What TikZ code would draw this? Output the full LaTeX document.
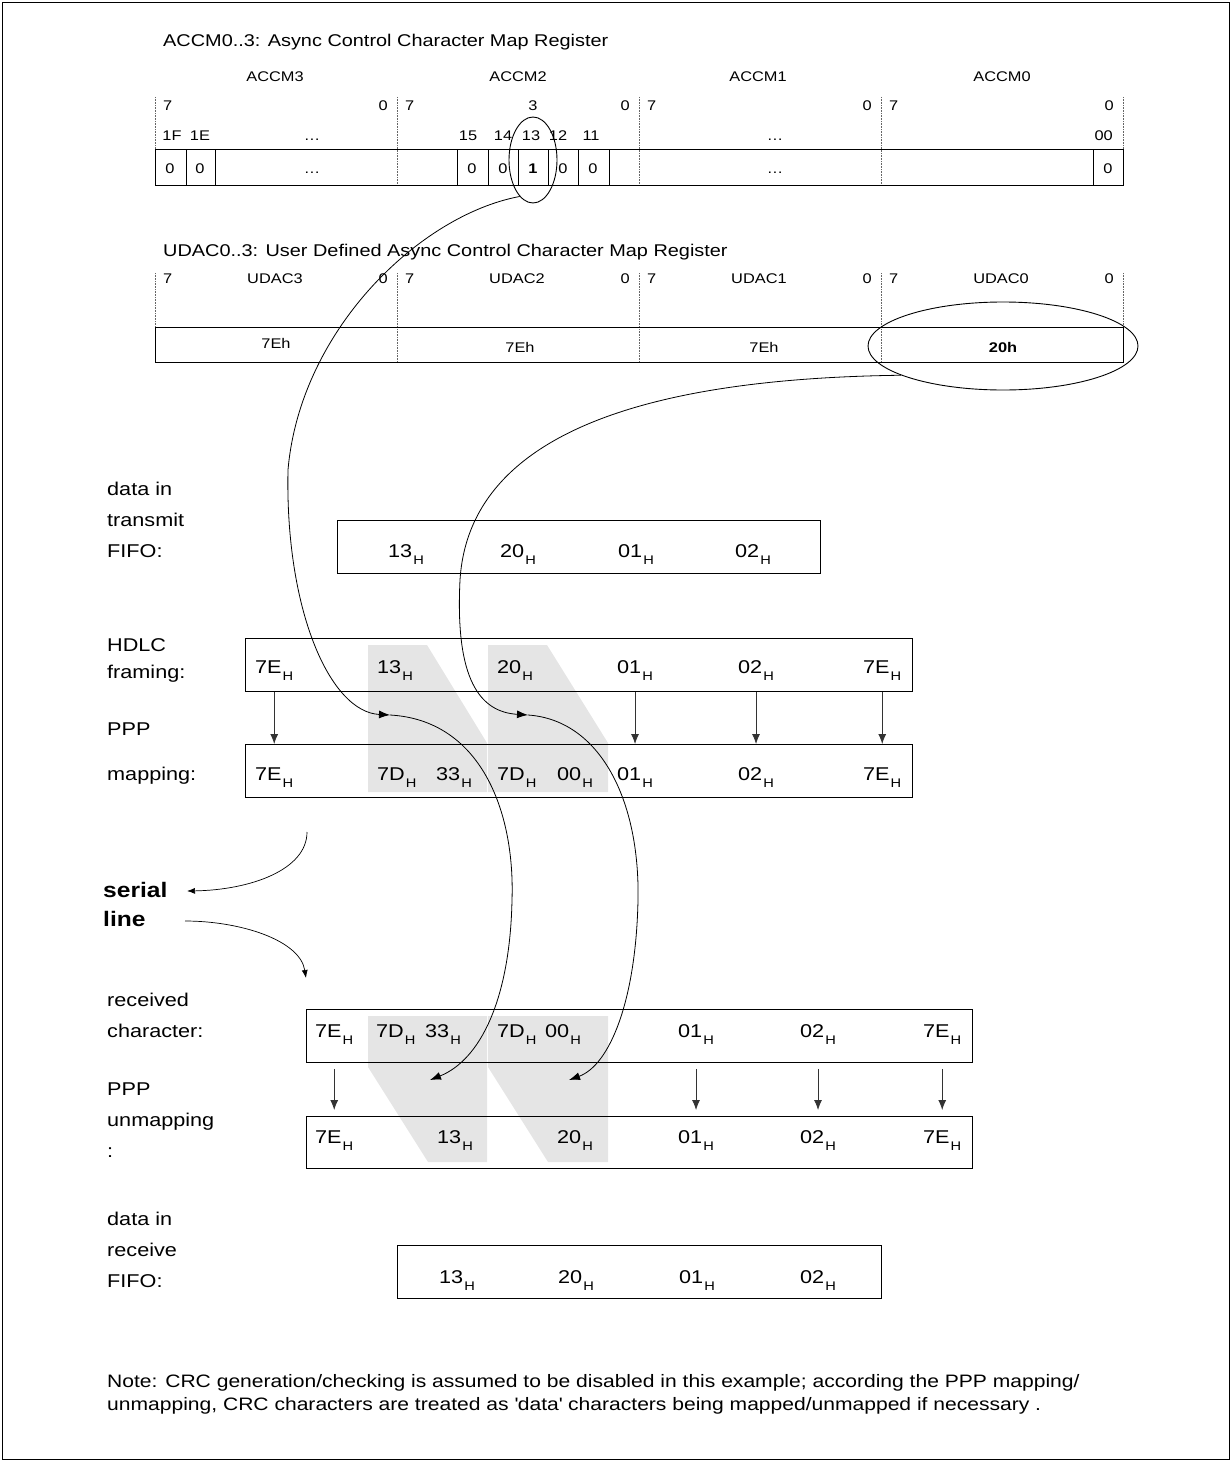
\documentclass[tikz,border=0pt]{standalone}
\usepackage{fontspec}
\setmainfont{Liberation Sans}[FakeStretch=1.17]
\usetikzlibrary{arrows.meta,shapes.geometric}

\newcommand{\hx}[1]{#1\kern1pt\raisebox{-7pt}{\fontsize{12.5}{12}\selectfont H}}
\newcommand{\stk}[1]{\begin{tabular}[b]{@{}l@{}}#1\end{tabular}}

\begin{document}
\begin{tikzpicture}[x=1pt,y=-1pt,
  box/.style={draw, line width=0.9pt, inner sep=0pt, anchor=north west},
  reg/.style={font=\fontsize{14}{16}\selectfont, inner sep=0pt, anchor=base},
  ttl/.style={font=\fontsize{17}{20}\selectfont, inner sep=0pt, anchor=base west},
  lbl/.style={font=\fontsize{18.5}{31}\selectfont, inner sep=0pt, anchor=base west},
  hexv/.style={font=\fontsize{18.5}{20}\selectfont, inner sep=0pt, anchor=base west},
  sep/.style={densely dotted, black!60, line width=0.6pt},
  cell/.style={line width=0.8pt},
  shd/.style={fill=black!10, draw=none},
  ring/.style={draw, ellipse, line width=0.9pt, inner sep=0pt},
  flow/.style={-{Latex[length=11pt,width=8pt]}, line width=0.8pt},
  sflow/.style={-{Latex[length=8pt,width=6pt]}, line width=0.7pt},
  varr/.style={-{Latex[length=10pt,width=8pt]}, line width=0.8pt, black!80},
]
\useasboundingbox (0,0) rectangle (1231,1461);
\draw[line width=0.8pt] (2,2) rectangle (1229,1459);

% ACCM register
\node[ttl] (accmttl) at (163,47) {ACCM0..3: Async Control Character Map Register};
\foreach \n/\x in {3/275,2/518,1/758,0/1002}
  \node[reg] (accmn\n) at (\x,82) {ACCM\n};
\foreach \x in {155,397,639,881,1123}
  \draw[sep] (\x,97) -- (\x,185);
\foreach \x [count=\i] in {155,397,639,881} {
  \node[reg, anchor=base west] (ahi\i) at (\x+8,111) {7};
  \node[reg, anchor=base east] (alo\i) at (\x+233,111) {0};
}
\node[reg] (abit3) at (533,111) {3};
\foreach \t/\x [count=\i] in {1F/172,1E/200,{\dots}/312,15/468,14/503,13/531,12/558,11/591,{\dots}/775}
  \node[reg] (aidx\i) at (\x,141) {\t};
\node[reg, anchor=base east] (aidx00) at (1113,141) {00};
\node[box, minimum width=968pt, minimum height=36pt] (accm) at (155,149) {};
\foreach \x in {186,215,457,488,518,548,578,609,1093}
  \draw[cell] (\x,149) -- (\x,185);
\foreach \t/\x [count=\i] in {0/170,0/200,{\dots}/312,0/472,0/503,\textbf{1}/533,0/563,0/593,{\dots}/775,0/1108}
  \node[reg] (aval\i) at (\x,173) {\t};

% UDAC register
\node[ttl] (udacttl) at (163,256) {UDAC0..3: User Defined Async Control Character Map Register};
\foreach \x in {155,397,639,881,1123}
  \draw[sep] (\x,273) -- (\x,362);
\foreach \x/\n in {155/3,397/2,639/1,881/0} {
  \node[reg, anchor=base west] (uhi\n) at (\x+8,283) {7};
  \node[reg] (udacn\n) at (\x+120,283) {UDAC\n};
  \node[reg, anchor=base east] (ulo\n) at (\x+233,283) {0};
}
\node[box, minimum width=968pt, minimum height=35pt] (udac) at (155,327) {};
\node[reg] (uval3) at (276,348) {7Eh};
\node[reg] (uval2) at (520,352) {7Eh};
\node[reg] (uval1) at (764,352) {7Eh};
\node[reg] (uval0) at (1003,352) {\textbf{20h}};

% shading of the escaped characters
\fill[shd] (368,645) -- (427,645) -- (487,743) -- (487,792) -- (368,792) -- cycle;
\fill[shd] (488,645) -- (547,645) -- (608,743) -- (608,792) -- (488,792) -- cycle;
\fill[shd] (368,1016) -- (487,1016) -- (487,1162) -- (428,1162) -- (368,1067) -- cycle;
\fill[shd] (488,1016) -- (608,1016) -- (608,1162) -- (548,1162) -- (488,1067) -- cycle;

% transmit side
\node[lbl] (txl) at (107,557) {\stk{data in\\transmit\\FIFO:}};
\node[box, minimum width=483pt, minimum height=53pt] (txf) at (337,520) {};
\foreach \v/\x [count=\i] in {13/388,20/500,01/618,02/735}
  \node[hexv] (tf\i) at (\x,557) {\hx{\v}};

\node[lbl] (hdl) at (107,678) {\stk{HDLC\\[-4pt]framing:}};
\node[box, minimum width=667pt, minimum height=53pt] (hdlc) at (245,638) {};
\foreach \v/\x [count=\i] in {7E/255,13/377,20/497,01/617,02/738,7E/863}
  \node[hexv] (hd\i) at (\x,673) {\hx{\v}};

\node[lbl] (ppl) at (107,780) {\stk{PPP\\[14pt]mapping:}};
\node[box, minimum width=667pt, minimum height=53pt] (ppp) at (245,744) {};
\foreach \v/\x [count=\i] in {7E/255,7D/377,33/436,7D/497,00/557,01/617,02/738,7E/863}
  \node[hexv] (pm\i) at (\x,780) {\hx{\v}};

\foreach \a/\b in {1/1,4/6,5/7,6/8}
  \draw[varr] (hd\a |- hdlc.south) -- (pm\b |- ppp.north);

% serial line
\node[lbl, font=\bfseries\fontsize{21}{29}\selectfont] (serl) at (103,926) {\stk{serial\\line}};
\coordinate (s0) at (307,832);
\coordinate (s1) at (187,891);
\coordinate (s2) at (185,921);
\coordinate (s3) at (306,978);
\draw[sflow] (s0) .. controls (307,870) and (250,890) .. (s1);
\draw[sflow] (s2) .. controls (240,921) and (300,940) .. (s3);

% receive side
\node[lbl] (rcl) at (107,1037) {\stk{received\\character:}};
\node[box, minimum width=666pt, minimum height=53pt] (rcv) at (306,1009) {};
\foreach \v/\x [count=\i] in {7E/315,7D/376,33/425,7D/497,00/545,01/678,02/800,7E/923}
  \node[hexv] (rc\i) at (\x,1037) {\hx{\v}};

\node[lbl] (uml) at (107,1157) {\stk{PPP\\unmapping\\:}};
\node[box, minimum width=666pt, minimum height=52pt] (unm) at (306,1116) {};
\foreach \v/\x [count=\i] in {7E/315,13/437,20/557,01/678,02/800,7E/923}
  \node[hexv] (um\i) at (\x,1143) {\hx{\v}};

\foreach \a/\b in {1/1,6/4,7/5,8/6}
  \draw[varr, shorten <=6pt, shorten >=6pt] (rc\a |- rcv.south) -- (um\b |- unm.north);

\node[lbl] (rxl) at (107,1287) {\stk{data in\\receive\\FIFO:}};
\node[box, minimum width=484pt, minimum height=53pt] (rxf) at (397,1245) {};
\foreach \v/\x [count=\i] in {13/439,20/558,01/679,02/800}
  \node[hexv] (rf\i) at (\x,1283) {\hx{\v}};

% rings and mapping paths
\node[ring, minimum width=48pt, minimum height=86pt] (e13) at (533,160) {};
\node[ring, minimum width=270pt, minimum height=88pt] (e20) at (1003,346) {};
\coordinate (t13) at (390,715);
\coordinate (t20) at (528,715);
\coordinate (u13) at (430,1080);
\coordinate (u20) at (569,1080);
\draw[flow] (e13.250) .. controls (420,215) and (300,330) .. (288,470)
  .. controls (285,610) and (330,712) .. (t13);
\draw[flow] (t13) .. controls (480,720) and (515,810) .. (512,900)
  .. controls (510,1000) and (480,1060) .. (u13);
\draw[flow] (e20.196) .. controls (680,378) and (470,420) .. (460,580)
  .. controls (455,680) and (480,712) .. (t20);
\draw[flow] (t20) .. controls (600,720) and (640,800) .. (638,900)
  .. controls (636,1000) and (610,1065) .. (u20);

% note
\node[lbl, font=\fontsize{18}{23}\selectfont] (note) at (107,1410)
  {\stk{Note: CRC generation/checking is assumed to be disabled in this example; according the PPP mapping/\\
  unmapping, CRC characters are treated as \textquotesingle data\textquotesingle\ characters being mapped/unmapped if necessary .}};
\end{tikzpicture}
\end{document}
